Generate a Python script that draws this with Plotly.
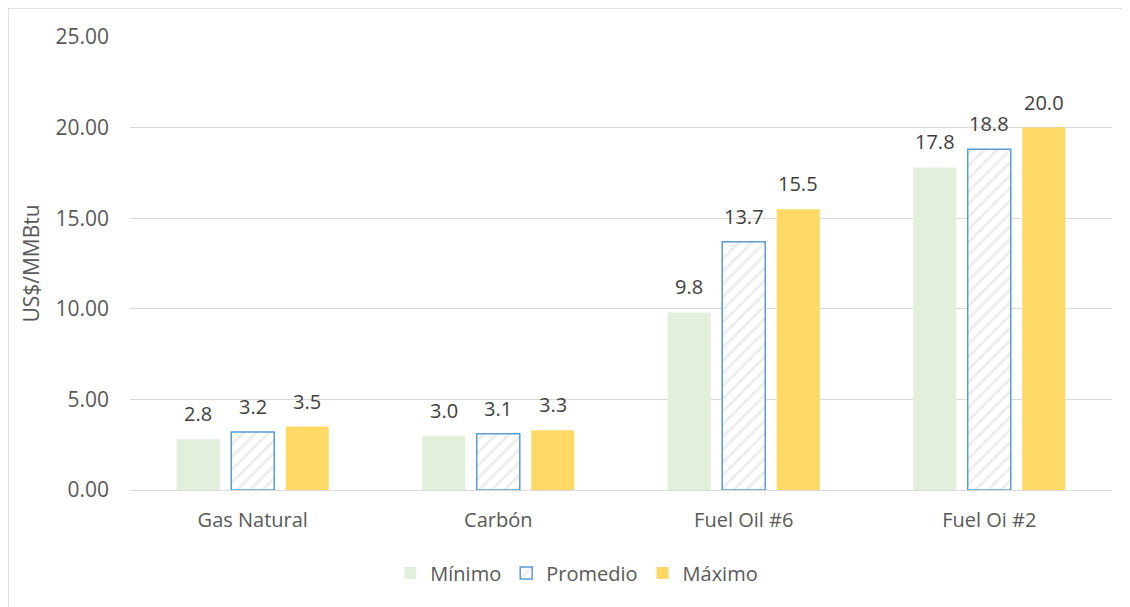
import plotly.graph_objects as go

categories = ["Gas Natural", "Carbón", "Fuel Oil #6", "Fuel Oi #2"]
minimo = [2.8, 3.0, 9.8, 17.8]
promedio = [3.2, 3.1, 13.7, 18.8]
maximo = [3.5, 3.3, 15.5, 20.0]
series_names = ["Mínimo", "Promedio", "Máximo"]
y_ticks = [0, 5, 10, 15, 20, 25]
y_tick_labels = ["0.00", "5.00", "10.00", "15.00", "20.00", "25.00"]

FONT = "Open Sans"
# page body has an 8px margin; plot area placed to land where the reference has it
L, T = 122, 29
PW, PH = 982, 453
W, H = 1130, 607

fig = go.Figure()
fig.add_bar(x=categories, y=minimo, name=series_names[0],
            marker=dict(color="#E2EFDA", line=dict(width=0)))
fig.add_bar(x=categories, y=promedio, name=series_names[1],
            marker=dict(color="white", line=dict(color="#5B9BD5", width=1.5),
                        pattern=dict(shape="/", fgcolor="#D9D9D9", bgcolor="white",
                                     size=9, solidity=0.3)))
fig.add_bar(x=categories, y=maximo, name=series_names[2],
            marker=dict(color="#FFD966", line=dict(width=0)))

annotations = []
for i, vals in enumerate([minimo, promedio, maximo]):
    for c, v in zip(categories, vals):
        annotations.append(dict(x=c, y=v, xref="x", yref="y", text=f"{v:.1f}",
                                showarrow=False, xshift=(i - 1) * 54.5, yshift=25.5,
                                yanchor="middle",
                                font=dict(family=FONT, size=20, color="#404040")))

bx = (0 - L) / PW
by = (T + PH - 0) / PH
shapes = [
    dict(type="line", xref="paper", yref="paper", x0=bx, x1=1.2, y0=by, y1=by,
         line=dict(color="#D9D9D9", width=1.5)),
    dict(type="line", xref="paper", yref="paper", x0=bx, x1=bx, y0=by, y1=-0.4,
         line=dict(color="#D9D9D9", width=1.5)),
]

fig.update_layout(
    width=W, height=H,
    margin=dict(l=L, r=W - L - PW, t=T, b=H - T - PH),
    paper_bgcolor="white", plot_bgcolor="white",
    barmode="group", bargap=0.334, bargroupgap=0.21,
    font=dict(family=FONT, size=20, color="#595959"),
    showlegend=True,
    legend=dict(orientation="h", x=0.455, xanchor="center", y=-0.183, yanchor="middle",
                font=dict(family=FONT, size=20, color="#595959"), traceorder="normal",
                itemwidth=30),
    annotations=annotations,
    shapes=shapes,
    xaxis=dict(showgrid=False, showline=False, ticks="", ticklabelstandoff=16,
               tickfont=dict(family=FONT, size=20, color="#595959")),
    yaxis=dict(range=[0, 25], tickvals=y_ticks, ticktext=y_tick_labels,
               showgrid=True, gridcolor="#D9D9D9", gridwidth=1,
               zeroline=True, zerolinecolor="#D9D9D9", zerolinewidth=1,
               showline=False, ticks="", ticklabelstandoff=20,
               tickfont=dict(family=FONT, size=21, color="#595959"),
               title=dict(text="US$/MMBtu", standoff=10,
                          font=dict(family=FONT, size=21, color="#595959"))),
)

fig.write_html("out.html")
